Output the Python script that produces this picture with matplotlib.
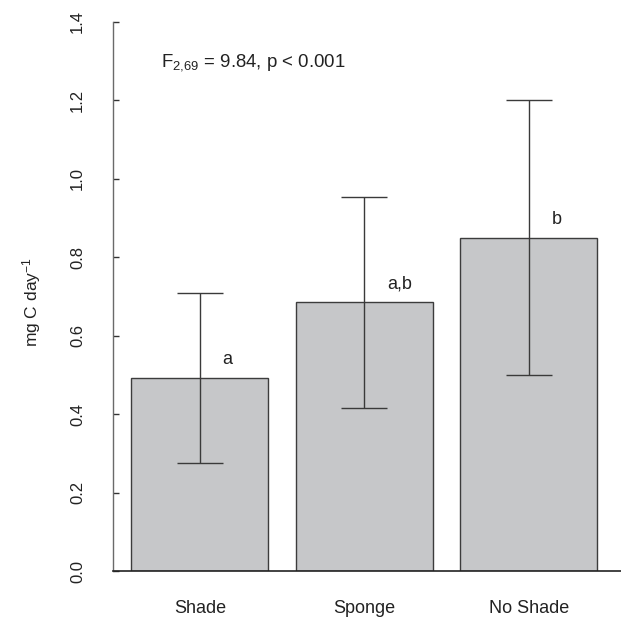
import numpy as np
import matplotlib.pyplot as plt

plt.rcParams['font.family'] = ['Liberation Sans', 'DejaVu Sans']
plt.rcParams['mathtext.default'] = 'regular'

# data
groups = ["Shade", "Sponge", "No Shade"]
means = [0.492, 0.685, 0.848]
err_low = [0.275, 0.415, 0.499]
err_high = [0.708, 0.953, 1.200]
letters = ["a", "a,b", "b"]
yticks = [0.0, 0.2, 0.4, 0.6, 0.8, 1.0, 1.2, 1.4]

# R barplot style positions: width 1, space 0.2
x = 0.2 + 0.5 + 1.2 * np.arange(len(groups))
means = np.array(means)
lo = means - np.array(err_low)
hi = np.array(err_high) - means

fig = plt.figure(figsize=(6.21, 6.19), dpi=100)
ax = fig.add_axes([0.1815, 0.0775, 0.8185, 0.8875])

ax.bar(x, means, width=1.0, color="#c6c7c9", edgecolor="#3c3c3c", linewidth=1.0, zorder=2)
ax.errorbar(x, means, yerr=[lo, hi], fmt="none", ecolor="#3a3a3a",
            elinewidth=1.0, capsize=16.5, capthick=1.0, zorder=3)

for xi, m, lab in zip(x, means, letters):
    ax.text(xi + 0.165, m + 0.036, lab, fontsize=13, ha="left", va="baseline", color="#222222")

ax.text(0.414, 1.287, r"F$_{2{,}69}$ = 9.84, p < 0.001", fontsize=13.4, ha="left",
        va="baseline", color="#222222")

ax.set_xlim(0.064, 3.772)
ax.set_ylim(0, 1.4)
ax.set_yticks(yticks)
ax.set_yticklabels([f"{v:.1f}" for v in yticks])
ax.set_xticks(x)
ax.set_xticklabels(groups)

ax.tick_params(axis="y", direction="in", length=4.1, width=1.0, color="#333333",
               labelrotation=90, labelsize=12, pad=20, labelcolor="#222222")
ax.tick_params(axis="x", length=0, labelsize=13, pad=21, labelcolor="#222222")
for lab in ax.get_yticklabels():
    lab.set_va("center")

for s in ["top", "right"]:
    ax.spines[s].set_visible(False)
ax.spines["left"].set_color("#6a6a6a")
ax.spines["left"].set_linewidth(1.0)
ax.spines["bottom"].set_color("#222222")
ax.spines["bottom"].set_linewidth(1.2)

fig.text(32 / 621, 1 - 302 / 619, "mg C day$^{-1}$", rotation=90, ha="center", va="center",
         fontsize=12.5, color="#222222")

fig.savefig("out.png", dpi=100)
